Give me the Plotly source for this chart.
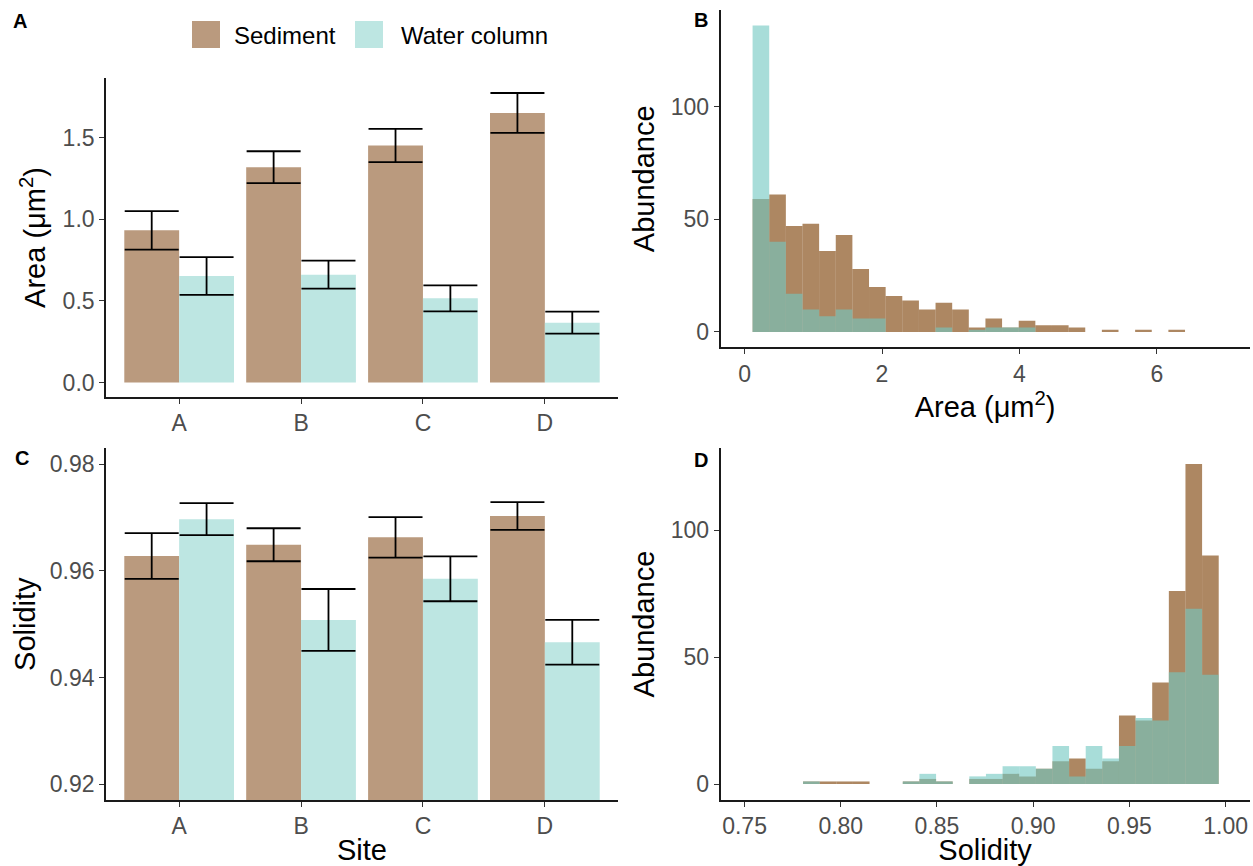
import plotly.graph_objects as go

# ---------------- data ----------------
sites = ["A", "B", "C", "D"]

area_sed_mean = [0.933, 1.320, 1.453, 1.653]
area_sed_se = [0.118, 0.098, 0.102, 0.122]
area_wat_mean = [0.653, 0.661, 0.516, 0.367]
area_wat_se = [0.116, 0.086, 0.080, 0.068]

sol_sed_mean = [0.9628, 0.9649, 0.9663, 0.9703]
sol_sed_se = [0.0043, 0.0031, 0.0038, 0.0026]
sol_wat_mean = [0.9697, 0.9508, 0.9585, 0.9466]
sol_wat_se = [0.0030, 0.0058, 0.0042, 0.0042]

area_bin_start = 0.117
area_bin_width = 0.242
area_sed_counts = [59, 61, 47, 48, 36, 43, 28, 20, 16, 14, 10, 13, 10,
                   2, 6, 2, 5, 3, 3, 2, 0, 1, 0, 1, 0, 1]
area_wat_counts = [136, 40, 17, 10, 7, 10, 6, 6, 0, 0, 0, 2, 0,
                   1, 2, 2, 2, 0, 0, 0, 0, 0, 0, 0, 0, 0]

sol_bin_start = 0.7804
sol_bin_width = 0.00864
sol_sed_counts = [1, 1, 1, 1, 0, 0, 1, 2, 1, 0, 2, 2, 4, 3, 6, 9, 10, 6, 9,
                  27, 25, 40, 76, 126, 90]
sol_wat_counts = [1, 0, 0, 0, 0, 0, 1, 4, 1, 0, 3, 4, 7, 7, 6, 15, 3, 15, 10,
                  15, 26, 25, 44, 69, 43]

labels = ["Sediment", "Water column"]

# ---------------- styles ----------------
W, H = 1253, 866
FONT = "Liberation Sans, Arial, Helvetica, sans-serif"
SED_BAR = "#BA9A7E"
WAT_BAR = "#BDE6E2"
SED_HIST = "rgba(123,62,2,0.62)"
WAT_HIST = "rgba(115,200,194,0.62)"
TICK_COL = "#4D4D4D"
TICK_SIZE = 23
TITLE_SIZE = 29


def centers(start, width, n):
    return [start + width * (i + 0.5) for i in range(n)]


fig = go.Figure()

# Panel A
fig.add_trace(go.Bar(x=sites, y=area_sed_mean, name=labels[0], marker_color=SED_BAR,
                     marker_line_width=0, offset=-0.45, width=0.45,
                     error_y=dict(type="data", array=area_sed_se, color="black",
                                  thickness=1.8, width=27),
                     xaxis="x", yaxis="y", showlegend=False))
fig.add_trace(go.Bar(x=sites, y=area_wat_mean, name=labels[1], marker_color=WAT_BAR,
                     marker_line_width=0, offset=0, width=0.45,
                     error_y=dict(type="data", array=area_wat_se, color="black",
                                  thickness=1.8, width=27),
                     xaxis="x", yaxis="y", showlegend=False))

# Panel C
fig.add_trace(go.Bar(x=sites, y=sol_sed_mean, name=labels[0], marker_color=SED_BAR,
                     marker_line_width=0, offset=-0.45, width=0.45,
                     error_y=dict(type="data", array=sol_sed_se, color="black",
                                  thickness=1.8, width=27),
                     xaxis="x3", yaxis="y3", showlegend=False))
fig.add_trace(go.Bar(x=sites, y=sol_wat_mean, name=labels[1], marker_color=WAT_BAR,
                     marker_line_width=0, offset=0, width=0.45,
                     error_y=dict(type="data", array=sol_wat_se, color="black",
                                  thickness=1.8, width=27),
                     xaxis="x3", yaxis="y3", showlegend=False))

# Panel B
fig.add_trace(go.Bar(x=centers(area_bin_start, area_bin_width, len(area_sed_counts)),
                     y=area_sed_counts, width=area_bin_width, name=labels[0],
                     marker_color=SED_HIST, marker_line_width=0,
                     xaxis="x2", yaxis="y2", showlegend=False))
fig.add_trace(go.Bar(x=centers(area_bin_start, area_bin_width, len(area_wat_counts)),
                     y=area_wat_counts, width=area_bin_width, name=labels[1],
                     marker_color=WAT_HIST, marker_line_width=0,
                     xaxis="x2", yaxis="y2", showlegend=False))

# Panel D
fig.add_trace(go.Bar(x=centers(sol_bin_start, sol_bin_width, len(sol_sed_counts)),
                     y=sol_sed_counts, width=sol_bin_width, name=labels[0],
                     marker_color=SED_HIST, marker_line_width=0,
                     xaxis="x4", yaxis="y4", showlegend=False))
fig.add_trace(go.Bar(x=centers(sol_bin_start, sol_bin_width, len(sol_wat_counts)),
                     y=sol_wat_counts, width=sol_bin_width, name=labels[1],
                     marker_color=WAT_HIST, marker_line_width=0,
                     xaxis="x4", yaxis="y4", showlegend=False))


def ax(**kw):
    base = dict(showline=True, linecolor="#1a1a1a", linewidth=1.6, ticks="outside",
                ticklen=5, tickwidth=1.3, tickcolor="#333333", showgrid=False,
                zeroline=False, automargin=False,
                tickfont=dict(size=TICK_SIZE, color=TICK_COL, family=FONT))
    base.update(kw)
    return base


def title(text, standoff):
    return dict(text=text, font=dict(size=TITLE_SIZE, color="black", family=FONT),
                standoff=standoff)


xl = [106 / W, 618 / W]
xr = [720.5 / W, 1249.7 / W]

fig.update_layout(
    width=W, height=H, margin=dict(l=0, r=0, t=0, b=0),
    paper_bgcolor="white", plot_bgcolor="white",
    barmode="overlay", font=dict(family=FONT),
    xaxis=ax(domain=xl, anchor="y", type="category", range=[-0.6, 3.6]),
    yaxis=ax(domain=[1 - 397 / H, 1 - 78 / H], anchor="x", range=[-0.089, 1.867],
             tickvals=[0, 0.5, 1.0, 1.5], tickformat=".1f",
             title=title("Area (μm<sup>2</sup>)", 8)),
    xaxis2=ax(domain=xr, anchor="y2", range=[-0.35, 7.35], tickvals=[0, 2, 4, 6],
              title=title("Area (μm<sup>2</sup>)", 6)),
    yaxis2=ax(domain=[1 - 347.3 / H, 1 - 10.3 / H], anchor="x2", range=[-6.8, 142.8],
              tickvals=[0, 50, 100], title=title("Abundance", 8)),
    xaxis3=ax(domain=xl, anchor="y3", type="category", range=[-0.6, 3.6],
              title=title("Site", 4)),
    yaxis3=ax(domain=[1 - 800 / H, 1 - 448.3 / H], anchor="x3", range=[0.917, 0.983],
              tickvals=[0.92, 0.94, 0.96, 0.98], tickformat=".2f",
              title=title("Solidity", 6)),
    xaxis4=ax(domain=xr, anchor="y4", range=[0.7375, 1.0125],
              tickvals=[0.75, 0.80, 0.85, 0.90, 0.95, 1.00], tickformat=".2f",
              title=title("Solidity", 4)),
    yaxis4=ax(domain=[1 - 800 / H, 1 - 448 / H], anchor="x4", range=[-6.3, 132.3],
              tickvals=[0, 50, 100], title=title("Abundance", 8)),
)

# manual legend (large keys as in reference)
legend_items = [(192, SED_BAR, labels[0], 232), (355, WAT_BAR, labels[1], 399)]
for kx, col, txt, tx in legend_items:
    fig.add_shape(type="rect", xref="paper", yref="paper",
                  x0=kx / W, x1=(kx + 28) / W, y0=1 - 48 / H, y1=1 - 21 / H,
                  fillcolor=col, line_width=0)
    fig.add_annotation(xref="paper", yref="paper", x=tx / W, y=1 - 35 / H,
                       xanchor="left", yanchor="middle", showarrow=False, text=txt,
                       font=dict(size=24, color="black", family=FONT))

# panel tags
for tag, px, py in [("A", 20, 21), ("B", 701, 20), ("C", 22, 458), ("D", 701, 460)]:
    fig.add_annotation(xref="paper", yref="paper", x=px / W, y=1 - py / H,
                       xanchor="center", yanchor="middle", showarrow=False,
                       text=f"<b>{tag}</b>", font=dict(size=20, color="black", family=FONT))

fig.write_html("out.html")
